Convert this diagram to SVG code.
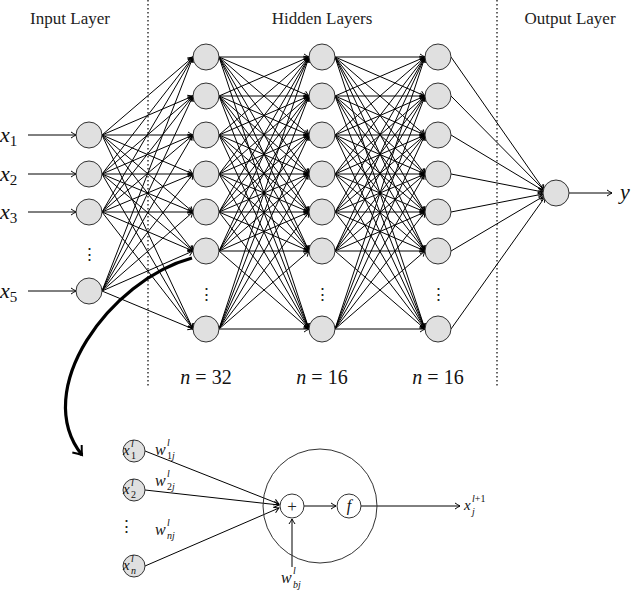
<svg xmlns="http://www.w3.org/2000/svg" width="640" height="595" viewBox="0 0 640 595">
<style>
.n{fill:#e0e0e0;stroke:#333;stroke-width:1}
.w{fill:#fff;stroke:#333;stroke-width:1}
.e line{stroke:#000;stroke-width:1;marker-end:url(#a)}
.t{font-family:"Liberation Serif",serif;font-size:17px;fill:#222}
.m{font-family:"Liberation Serif",serif;font-style:italic;fill:#111}
.s{font-family:"Liberation Serif",serif;font-style:italic;fill:#111;font-size:10px}
.r{font-style:normal}
.d{stroke:#000;stroke-width:1.2;stroke-dasharray:1.5 2.5}
</style>
<defs>
<marker id="a" markerWidth="8" markerHeight="8" refX="6" refY="4" orient="auto" markerUnits="userSpaceOnUse"><path d="M1,1 Q4,3 6,4 Q4,5 1,7" fill="none" stroke="#000" stroke-width="1"/></marker>
<marker id="b" markerWidth="16" markerHeight="16" refX="10" refY="8" orient="auto" markerUnits="userSpaceOnUse"><path d="M2,2 Q7,6 10,8 Q7,10 2,14" fill="none" stroke="#000" stroke-width="2"/></marker>
</defs>
<rect width="640" height="595" fill="#fff"/>
<line class="d" x1="148" y1="0" x2="148" y2="388"/>
<line class="d" x1="497" y1="0" x2="497" y2="388"/>
<text class="t" x="70" y="24" text-anchor="middle">Input Layer</text>
<text class="t" x="322" y="24" text-anchor="middle">Hidden Layers</text>
<text class="t" x="570" y="24" text-anchor="middle">Output Layer</text>
<g id="connectors" class="e">
<line x1="28" y1="135" x2="76" y2="135"/><line x1="28" y1="174" x2="76" y2="174"/><line x1="28" y1="212" x2="76" y2="212"/><line x1="28" y1="291" x2="76" y2="291"/>
<line x1="102" y1="135" x2="193" y2="57"/><line x1="102" y1="135" x2="193" y2="96"/><line x1="102" y1="135" x2="193" y2="135"/><line x1="102" y1="135" x2="193" y2="174"/><line x1="102" y1="135" x2="193" y2="212"/><line x1="102" y1="135" x2="193" y2="251"/><line x1="102" y1="135" x2="193" y2="329"/>
<line x1="102" y1="174" x2="193" y2="57"/><line x1="102" y1="174" x2="193" y2="96"/><line x1="102" y1="174" x2="193" y2="135"/><line x1="102" y1="174" x2="193" y2="174"/><line x1="102" y1="174" x2="193" y2="212"/><line x1="102" y1="174" x2="193" y2="251"/><line x1="102" y1="174" x2="193" y2="329"/>
<line x1="102" y1="212" x2="193" y2="57"/><line x1="102" y1="212" x2="193" y2="96"/><line x1="102" y1="212" x2="193" y2="135"/><line x1="102" y1="212" x2="193" y2="174"/><line x1="102" y1="212" x2="193" y2="212"/><line x1="102" y1="212" x2="193" y2="251"/><line x1="102" y1="212" x2="193" y2="329"/>
<line x1="102" y1="291" x2="193" y2="57"/><line x1="102" y1="291" x2="193" y2="96"/><line x1="102" y1="291" x2="193" y2="135"/><line x1="102" y1="291" x2="193" y2="174"/><line x1="102" y1="291" x2="193" y2="212"/><line x1="102" y1="291" x2="193" y2="251"/><line x1="102" y1="291" x2="193" y2="329"/>
<line x1="219" y1="57" x2="309" y2="57"/><line x1="219" y1="57" x2="309" y2="96"/><line x1="219" y1="57" x2="309" y2="135"/><line x1="219" y1="57" x2="309" y2="174"/><line x1="219" y1="57" x2="309" y2="212"/><line x1="219" y1="57" x2="309" y2="251"/><line x1="219" y1="57" x2="309" y2="329"/>
<line x1="219" y1="96" x2="309" y2="57"/><line x1="219" y1="96" x2="309" y2="96"/><line x1="219" y1="96" x2="309" y2="135"/><line x1="219" y1="96" x2="309" y2="174"/><line x1="219" y1="96" x2="309" y2="212"/><line x1="219" y1="96" x2="309" y2="251"/><line x1="219" y1="96" x2="309" y2="329"/>
<line x1="219" y1="135" x2="309" y2="57"/><line x1="219" y1="135" x2="309" y2="96"/><line x1="219" y1="135" x2="309" y2="135"/><line x1="219" y1="135" x2="309" y2="174"/><line x1="219" y1="135" x2="309" y2="212"/><line x1="219" y1="135" x2="309" y2="251"/><line x1="219" y1="135" x2="309" y2="329"/>
<line x1="219" y1="174" x2="309" y2="57"/><line x1="219" y1="174" x2="309" y2="96"/><line x1="219" y1="174" x2="309" y2="135"/><line x1="219" y1="174" x2="309" y2="174"/><line x1="219" y1="174" x2="309" y2="212"/><line x1="219" y1="174" x2="309" y2="251"/><line x1="219" y1="174" x2="309" y2="329"/>
<line x1="219" y1="212" x2="309" y2="57"/><line x1="219" y1="212" x2="309" y2="96"/><line x1="219" y1="212" x2="309" y2="135"/><line x1="219" y1="212" x2="309" y2="174"/><line x1="219" y1="212" x2="309" y2="212"/><line x1="219" y1="212" x2="309" y2="251"/><line x1="219" y1="212" x2="309" y2="329"/>
<line x1="219" y1="251" x2="309" y2="57"/><line x1="219" y1="251" x2="309" y2="96"/><line x1="219" y1="251" x2="309" y2="135"/><line x1="219" y1="251" x2="309" y2="174"/><line x1="219" y1="251" x2="309" y2="212"/><line x1="219" y1="251" x2="309" y2="251"/><line x1="219" y1="251" x2="309" y2="329"/>
<line x1="219" y1="329" x2="309" y2="57"/><line x1="219" y1="329" x2="309" y2="96"/><line x1="219" y1="329" x2="309" y2="135"/><line x1="219" y1="329" x2="309" y2="174"/><line x1="219" y1="329" x2="309" y2="212"/><line x1="219" y1="329" x2="309" y2="251"/><line x1="219" y1="329" x2="309" y2="329"/>
<line x1="335" y1="57" x2="425" y2="57"/><line x1="335" y1="57" x2="425" y2="96"/><line x1="335" y1="57" x2="425" y2="135"/><line x1="335" y1="57" x2="425" y2="174"/><line x1="335" y1="57" x2="425" y2="212"/><line x1="335" y1="57" x2="425" y2="251"/><line x1="335" y1="57" x2="425" y2="329"/>
<line x1="335" y1="96" x2="425" y2="57"/><line x1="335" y1="96" x2="425" y2="96"/><line x1="335" y1="96" x2="425" y2="135"/><line x1="335" y1="96" x2="425" y2="174"/><line x1="335" y1="96" x2="425" y2="212"/><line x1="335" y1="96" x2="425" y2="251"/><line x1="335" y1="96" x2="425" y2="329"/>
<line x1="335" y1="135" x2="425" y2="57"/><line x1="335" y1="135" x2="425" y2="96"/><line x1="335" y1="135" x2="425" y2="135"/><line x1="335" y1="135" x2="425" y2="174"/><line x1="335" y1="135" x2="425" y2="212"/><line x1="335" y1="135" x2="425" y2="251"/><line x1="335" y1="135" x2="425" y2="329"/>
<line x1="335" y1="174" x2="425" y2="57"/><line x1="335" y1="174" x2="425" y2="96"/><line x1="335" y1="174" x2="425" y2="135"/><line x1="335" y1="174" x2="425" y2="174"/><line x1="335" y1="174" x2="425" y2="212"/><line x1="335" y1="174" x2="425" y2="251"/><line x1="335" y1="174" x2="425" y2="329"/>
<line x1="335" y1="212" x2="425" y2="57"/><line x1="335" y1="212" x2="425" y2="96"/><line x1="335" y1="212" x2="425" y2="135"/><line x1="335" y1="212" x2="425" y2="174"/><line x1="335" y1="212" x2="425" y2="212"/><line x1="335" y1="212" x2="425" y2="251"/><line x1="335" y1="212" x2="425" y2="329"/>
<line x1="335" y1="251" x2="425" y2="57"/><line x1="335" y1="251" x2="425" y2="96"/><line x1="335" y1="251" x2="425" y2="135"/><line x1="335" y1="251" x2="425" y2="174"/><line x1="335" y1="251" x2="425" y2="212"/><line x1="335" y1="251" x2="425" y2="251"/><line x1="335" y1="251" x2="425" y2="329"/>
<line x1="335" y1="329" x2="425" y2="57"/><line x1="335" y1="329" x2="425" y2="96"/><line x1="335" y1="329" x2="425" y2="135"/><line x1="335" y1="329" x2="425" y2="174"/><line x1="335" y1="329" x2="425" y2="212"/><line x1="335" y1="329" x2="425" y2="251"/><line x1="335" y1="329" x2="425" y2="329"/>
<line x1="451" y1="57" x2="544" y2="190"/><line x1="451" y1="96" x2="544" y2="190"/><line x1="451" y1="135" x2="544" y2="191"/><line x1="451" y1="174" x2="543" y2="192"/><line x1="451" y1="212" x2="543" y2="194"/><line x1="451" y1="251" x2="544" y2="196"/><line x1="451" y1="329" x2="545" y2="197"/>
<line x1="569" y1="193" x2="612" y2="193"/>
<line x1="145" y1="451" x2="279" y2="504"/><line x1="145" y1="490" x2="279" y2="505"/><line x1="145" y1="566" x2="279" y2="508"/>
<line x1="304" y1="506" x2="336" y2="506"/><line x1="361" y1="506" x2="460" y2="506"/>
<line x1="292" y1="567" x2="292" y2="519"/>
<path d="M192,258 C110,280 30,390 82,455" fill="none" stroke="#000" stroke-width="3.2" style="marker-end:url(#b)"/>
</g>
<g id="input">
<circle class="n" cx="89" cy="135" r="13"/><circle class="n" cx="89" cy="174" r="13"/><circle class="n" cx="89" cy="212" r="13"/><circle class="n" cx="89" cy="291" r="13"/>
<text class="m" font-size="22" x="0" y="142">x<tspan class="r" font-size="15" dy="4">1</tspan></text>
<text class="m" font-size="22" x="0" y="181">x<tspan class="r" font-size="15" dy="4">2</tspan></text>
<text class="m" font-size="22" x="0" y="219">x<tspan class="r" font-size="15" dy="4">3</tspan></text>
<text class="m" font-size="22" x="0" y="298">x<tspan class="r" font-size="15" dy="4">5</tspan></text>
<text class="t" x="89" y="260" text-anchor="middle">⋮</text>
</g>
<g id="hidden1">
<circle class="n" cx="206" cy="57" r="13"/><circle class="n" cx="206" cy="96" r="13"/><circle class="n" cx="206" cy="135" r="13"/><circle class="n" cx="206" cy="174" r="13"/><circle class="n" cx="206" cy="212" r="13"/><circle class="n" cx="206" cy="251" r="13"/><circle class="n" cx="206" cy="329" r="13"/>
<text class="t" x="206" y="300" text-anchor="middle">⋮</text>
<text class="m" font-size="20" x="206" y="384" text-anchor="middle">n <tspan class="r">= 32</tspan></text>
</g>
<g id="hidden2">
<circle class="n" cx="322" cy="57" r="13"/><circle class="n" cx="322" cy="96" r="13"/><circle class="n" cx="322" cy="135" r="13"/><circle class="n" cx="322" cy="174" r="13"/><circle class="n" cx="322" cy="212" r="13"/><circle class="n" cx="322" cy="251" r="13"/><circle class="n" cx="322" cy="329" r="13"/>
<text class="t" x="322" y="300" text-anchor="middle">⋮</text>
<text class="m" font-size="20" x="322" y="384" text-anchor="middle">n <tspan class="r">= 16</tspan></text>
</g>
<g id="hidden3">
<circle class="n" cx="438" cy="57" r="13"/><circle class="n" cx="438" cy="96" r="13"/><circle class="n" cx="438" cy="135" r="13"/><circle class="n" cx="438" cy="174" r="13"/><circle class="n" cx="438" cy="212" r="13"/><circle class="n" cx="438" cy="251" r="13"/><circle class="n" cx="438" cy="329" r="13"/>
<text class="t" x="438" y="300" text-anchor="middle">⋮</text>
<text class="m" font-size="20" x="438" y="384" text-anchor="middle">n <tspan class="r">= 16</tspan></text>
</g>
<g id="output">
<circle class="n" cx="556" cy="193" r="13"/>
<text class="m" font-size="22" x="620" y="199">y</text>
</g>
<g id="neuron">
<circle cx="320" cy="506" r="57" fill="none" stroke="#333"/>
<circle class="w" cx="292" cy="506" r="12"/>
<text class="t" x="292" y="512" text-anchor="middle" font-size="16">+</text>
<circle class="w" cx="349" cy="506" r="12"/>
<text class="m" font-size="16" x="349" y="511" text-anchor="middle">f</text>
<circle class="n" cx="134" cy="451" r="11"/><circle class="n" cx="134" cy="490" r="11"/><circle class="n" cx="134" cy="566" r="11"/>
<text class="m" font-size="15" x="123" y="455">x</text><text class="s" x="131" y="447">l</text><text class="s r" x="131" y="459">1</text>
<text class="m" font-size="15" x="123" y="494">x</text><text class="s" x="131" y="486">l</text><text class="s r" x="131" y="498">2</text>
<text class="m" font-size="15" x="123" y="570">x</text><text class="s" x="131" y="562">l</text><text class="s" x="131" y="574">n</text>
<text class="t" x="126" y="532" text-anchor="middle">⋮</text>
<text class="m" font-size="16" x="155" y="455">w</text><text class="s" x="167" y="446">l</text><text class="s" x="167" y="459"><tspan class="r">1</tspan>j</text>
<text class="m" font-size="16" x="155" y="486">w</text><text class="s" x="167" y="477">l</text><text class="s" x="167" y="490"><tspan class="r">2</tspan>j</text>
<text class="m" font-size="16" x="155" y="535">w</text><text class="s" x="167" y="526">l</text><text class="s" x="167" y="539">nj</text>
<text class="m" font-size="16" x="281" y="583">w</text><text class="s" x="293" y="574">l</text><text class="s" x="293" y="588">bj</text>
<text class="m" font-size="15" x="464" y="510">x</text><text class="s" x="472" y="502">l<tspan class="r">+1</tspan></text><text class="s" x="472" y="515">j</text>
</g>
</svg>
